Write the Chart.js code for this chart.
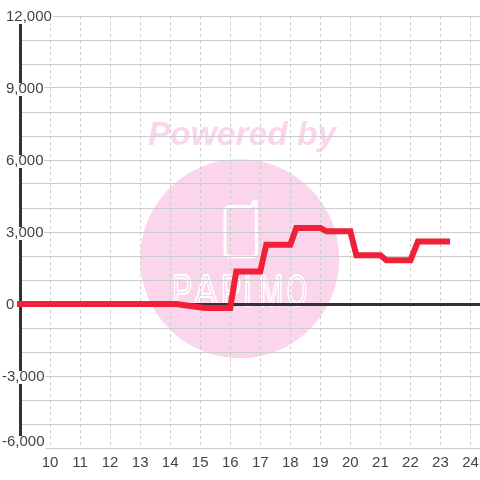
<!DOCTYPE html>
<html><head><meta charset="utf-8">
<style>html,body{margin:0;padding:0;background:#fff}canvas{display:block}</style>
<script src="https://cdn.jsdelivr.net/npm/chart.js@4/dist/chart.umd.min.js"></script>
</head><body>
<div style="width:480px;height:480px"><canvas id="c" width="480" height="480"></canvas></div>
<script>
const hours  = [9, 14.2, 15.15, 16, 16.2, 17, 17.2, 18, 18.2, 19, 19.2, 20, 20.2, 21, 21.2, 22, 22.25, 23.22];
const values = [0, 0, -170, -170, 1350, 1350, 2470, 2470, 3170, 3170, 3030, 3030, 2030, 2030, 1820, 1820, 2600, 2600];
const yLabelEvery = 3000;
const FONT = '15px "Liberation Sans"';
const INK = '#444';

const watermark = {
  id:'watermark',
  beforeDraw(chart){
    const c = chart.ctx, pink = '#fbd5ec';
    c.save();
    c.fillStyle = '#fff'; c.fillRect(0,0,480,480);
    c.fillStyle = pink;
    c.beginPath(); c.arc(239.7,258.7,99.5,0,Math.PI*2); c.fill();
    c.font = 'italic bold 33.5px "Liberation Sans"';
    c.textAlign='left'; c.textBaseline='alphabetic';
    c.fillText('Powered by',148,145);
    c.strokeStyle='#fff'; c.lineWidth=3; c.lineJoin='round';
    c.beginPath();
    c.moveTo(230,206.5); c.lineTo(251,206.5); c.quadraticCurveTo(253,206,253,203); c.quadraticCurveTo(254,200.5,256,201);
    c.lineTo(256.5,252); c.quadraticCurveTo(256.5,257,251,257);
    c.lineTo(230,257); c.quadraticCurveTo(225,257,225,252);
    c.lineTo(225,212); c.quadraticCurveTo(225,206.5,230,206.5);
    c.stroke();
    c.font = '45px "Liberation Sans"';
    c.lineWidth=2;
    [['P',174,17],['A',194,24],['P',223,17],['i',246,3],['M',261,20],['O',288,18]].forEach(([ch,x,w])=>{
      const m = c.measureText(ch);
      c.save();
      c.translate(x,306);
      c.scale(w/(m.actualBoundingBoxRight+m.actualBoundingBoxLeft),1);
      c.strokeText(ch,m.actualBoundingBoxLeft,0);
      c.restore();
    });
    c.restore();
  }
};

const yLabels = {
  id:'yLabels',
  afterDraw(chart){
    const s = chart.scales.y, c = chart.ctx;
    c.save();
    c.font = FONT; c.textAlign='left'; c.textBaseline='middle';
    s.ticks.forEach((t,i)=>{
      if (t.value % yLabelEvery !== 0) return;
      const text = t.value.toLocaleString('en-US');
      let cy = s.getPixelForTick(i) + 1;
      if (t.value === s.min) cy -= 7;
      const x = t.value < 0 ? 2 : 6;
      const w = c.measureText(text).width;
      c.fillStyle = '#fff';
      c.fillRect(x, cy-6, w+1, 13);
      c.fillStyle = INK;
      c.fillText(text, x, cy);
    });
    c.restore();
  }
};

new Chart(document.getElementById('c'),{
  type:'line',
  data:{datasets:[{
    data: hours.map((h,i)=>({x:h,y:values[i]})),
    borderColor:'#ef2038', borderWidth:6, pointRadius:0, tension:0,
    borderCapStyle:'square', borderJoinStyle:'miter', clip:false, fill:false
  }]},
  options:{
    responsive:false, animation:false,
    layout:{padding:{left:20,top:16,right:0,bottom:0}},
    plugins:{legend:{display:false},tooltip:{enabled:false}},
    scales:{
      x:{type:'linear',min:9,max:24.317,
        afterFit(s){s.height=32;s.paddingLeft=0;s.paddingRight=0;},
        border:{display:false,dash:[3,3]},
        grid:{drawTicks:false,color:c=>c.tick&&c.tick.value===9?'rgba(0,0,0,0)':'#ccc',lineWidth:1},
        ticks:{stepSize:1,includeBounds:false,autoSkip:false,maxRotation:0,font:{family:'Liberation Sans',size:15},color:INK,padding:6,
          callback:v=>v>=10?String(v):''}
      },
      y:{type:'linear',min:-6000,max:12000,
        afterFit(s){s.width=0;s.paddingTop=0;s.paddingBottom=0;},
        border:{display:true,color:'#333',width:3},
        grid:{drawTicks:false,color:c=>c.tick&&c.tick.value===0?'#333':'#ccc',lineWidth:c=>c.tick&&c.tick.value===0?3:1},
        ticks:{stepSize:1000,display:false}
      }
    }
  },
  plugins:[watermark,yLabels]
});
</script>
</body></html>
